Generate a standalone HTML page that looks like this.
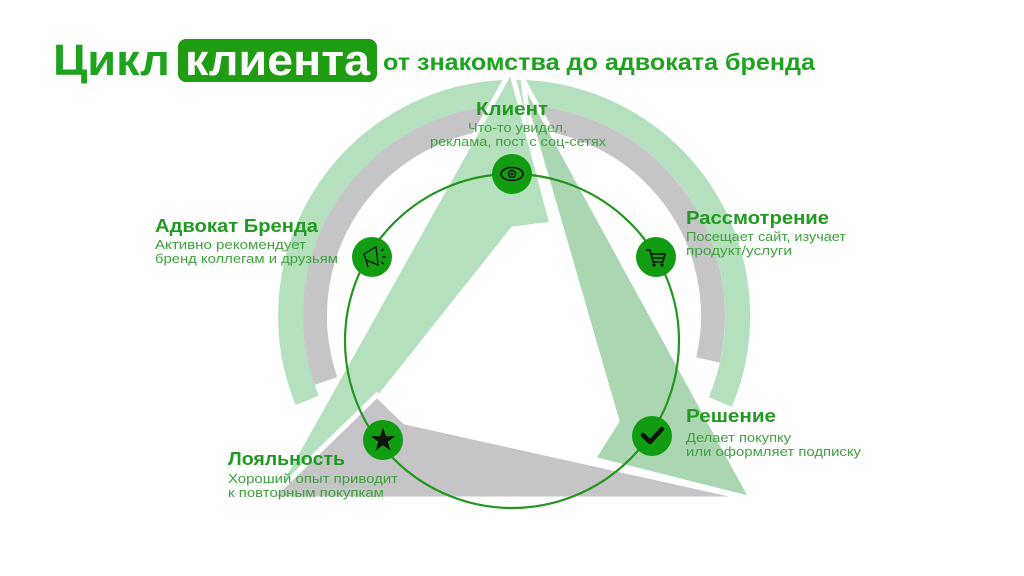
<!DOCTYPE html>
<html><head><meta charset="utf-8"><style>
body{margin:0;width:1024px;height:576px;background:#fff;overflow:hidden;font-family:"Liberation Sans","Noto Sans CJK SC",sans-serif}
svg{position:absolute;left:0;top:0}
</style></head><body>
<svg width="1024" height="576" viewBox="0 0 1024 576">
<path d="M 307.3 400.4 A 223.5 223.5 0 1 1 720.3 402" fill="none" stroke="#b5e0bd" stroke-width="25"/>
<path d="M 326 381 A 199 199 0 1 1 708 360" fill="none" stroke="#c5c5c8" stroke-width="24"/>
<polygon points="511,70 552,224 513,229 300,497 272,497" fill="#b5e0bd" stroke="#fff" stroke-width="5" stroke-linejoin="miter"/>
<polygon points="523,80 752,499 593,459 617,421 527,110" fill="#aad6b2" stroke="#fff" stroke-width="5"/>
<polygon points="377,395 405,422 752,499 270,499" fill="#c5c5c8" stroke="#fff" stroke-width="5"/>
<circle cx="512" cy="341" r="167" fill="none" stroke="#22961f" stroke-width="2.2"/>
<g fill="#129c12">
<circle cx="512" cy="174" r="20"/>
<circle cx="372" cy="257" r="20"/>
<circle cx="656" cy="257" r="20"/>
<circle cx="652" cy="436" r="20"/>
<circle cx="383" cy="440" r="20"/>
</g>
<ellipse cx="512" cy="174" rx="11" ry="6.5" fill="none" stroke="#111" stroke-width="1.6"/>
<circle cx="512" cy="174" r="3.5" fill="none" stroke="#111" stroke-width="1.4"/><circle cx="512" cy="174" r="1.4" fill="#111"/>
<path d="M364 254 L376 247 L378 265 L366 260 Z M366 260 L368 267" fill="none" stroke="#111" stroke-width="1.3"/>
<path d="M381 251 l3 -2 M382 257 h4 M381 262 l3 2" stroke="#111" stroke-width="1.2"/>
<path d="M646 250 h4 l3 12 h10 l2 -8 h-14 M653 258 h11" fill="none" stroke="#111" stroke-width="1.6"/>
<circle cx="654" cy="265" r="1.6" fill="#111"/><circle cx="662" cy="265" r="1.6" fill="#111"/>
<path d="M643 435 L650 442 L662 429" fill="none" stroke="#111" stroke-width="4.5" stroke-linecap="round" stroke-linejoin="round"/>
<text x="383" y="449" text-anchor="middle" font-size="26" fill="#111">★</text>

<text x="53" y="75" font-size="44" font-weight="bold" fill="#1ea31e" textLength="117" lengthAdjust="spacingAndGlyphs">Цикл</text>
<rect x="178" y="39" width="199" height="43" rx="8" fill="#1f9c12"/>
<text x="185" y="75" font-size="44" font-weight="bold" fill="#fff" textLength="185" lengthAdjust="spacingAndGlyphs">клиента</text>
<text x="383" y="70" font-size="23" font-weight="bold" fill="#1ea31e" textLength="432" lengthAdjust="spacingAndGlyphs">от знакомства до адвоката бренда</text>

<g font-weight="bold" font-size="18" fill="#219a21" lengthAdjust="spacingAndGlyphs">
<text x="476" y="115" textLength="72" lengthAdjust="spacingAndGlyphs">Клиент</text>
<text x="155" y="232" textLength="163" lengthAdjust="spacingAndGlyphs">Адвокат Бренда</text>
<text x="686" y="224" textLength="143" lengthAdjust="spacingAndGlyphs">Рассмотрение</text>
<text x="686" y="422" textLength="90" lengthAdjust="spacingAndGlyphs">Решение</text>
<text x="228" y="465" textLength="117" lengthAdjust="spacingAndGlyphs">Лояльность</text>
</g>
<g font-size="13" fill="#3ea23e">
<text x="468" y="132" textLength="99" lengthAdjust="spacingAndGlyphs">Что-то увидел,</text>
<text x="430" y="146" textLength="176" lengthAdjust="spacingAndGlyphs">реклама, пост с соц-сетях</text>
<text x="155" y="249" textLength="151" lengthAdjust="spacingAndGlyphs">Активно рекомендует</text>
<text x="155" y="263" textLength="183" lengthAdjust="spacingAndGlyphs">бренд коллегам и друзьям</text>
<text x="686" y="241" textLength="160" lengthAdjust="spacingAndGlyphs">Посещает сайт, изучает</text>
<text x="686" y="255" textLength="106" lengthAdjust="spacingAndGlyphs">продукт/услуги</text>
<text x="686" y="442" textLength="105" lengthAdjust="spacingAndGlyphs">Делает покупку</text>
<text x="686" y="456" textLength="175" lengthAdjust="spacingAndGlyphs">или оформляет подписку</text>
<text x="228" y="483" textLength="170" lengthAdjust="spacingAndGlyphs">Хороший опыт приводит</text>
<text x="228" y="497" textLength="156" lengthAdjust="spacingAndGlyphs">к повторным покупкам</text>
</g>
</svg>
</body></html>
